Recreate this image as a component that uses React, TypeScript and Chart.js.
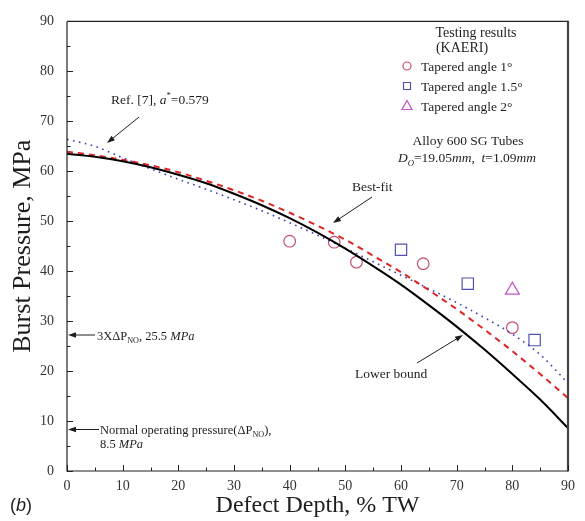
import React, { useEffect, useRef } from 'react';
import { Chart, registerables } from 'chart.js';

Chart.register(...registerables);

// ---- Data ----
const depth = [0, 5, 10, 15, 20, 25, 30, 35, 40, 45, 50, 55, 60, 65, 70, 75, 80, 85, 90];
const lowerBound = [63.5, 62.9, 62.0, 60.8, 59.3, 57.6, 55.5, 53.2, 50.6, 47.7, 44.5, 41.0, 37.3, 33.2, 28.9, 24.3, 19.4, 14.3, 8.6];
const bestFit = [63.9, 63.2, 62.3, 61.2, 59.8, 58.1, 56.2, 54.1, 51.7, 49.1, 46.3, 43.1, 39.8, 36.2, 32.4, 28.3, 24.0, 19.4, 14.6];
const ref7 = [66.4, 65.0, 62.7, 60.5, 58.4, 56.4, 54.3, 52.1, 49.7, 47.2, 44.6, 41.9, 39.2, 36.5, 33.7, 30.7, 27.4, 23.3, 17.6];

const angle1Depth = [40, 48, 52, 64, 80];
const angle1Burst = [46.0, 45.8, 41.8, 41.5, 28.7];
const angle15Depth = [60, 72, 84];
const angle15Burst = [44.3, 37.5, 26.2];
const angle2Depth = [80];
const angle2Burst = [36.2];

const axisMin = 0;
const axisMax = 90;
const majorStep = 10;
const minorStep = 5;

const legendLabels = ['Tapered angle 1\u00B0', 'Tapered angle 1.5\u00B0', 'Tapered angle 2\u00B0'];

// ---- Styles ----
const SERIF = '"Liberation Serif", "Times New Roman", Times, serif';
const SANS = '"Liberation Sans", Arial, sans-serif';
const C_CIRCLE = '#c4506c';
const C_SQUARE = '#5252ae';
const C_TRI = '#c452cc';
const C_RED = '#e02424';
const C_BLUE = '#3c3cb4';
const TEXT = '#1e1e1e';

const toXY = (xs: number[], ys: number[]) => xs.map((x, i) => ({ x, y: ys[i] }));

type Part = { t: string; it?: boolean; sub?: boolean; sup?: boolean };

function rich(ctx: CanvasRenderingContext2D, parts: Part[], x: number, y: number, size: number, align: 'left' | 'center' = 'left', family = SERIF) {
  const fontFor = (p: Part) => `${p.it ? 'italic ' : ''}${p.sub || p.sup ? size * 0.65 : size}px ${family}`;
  let w = 0;
  for (const p of parts) {
    ctx.font = fontFor(p);
    w += ctx.measureText(p.t).width;
  }
  let cx = align === 'center' ? x - w / 2 : x;
  ctx.textAlign = 'left';
  ctx.textBaseline = 'alphabetic';
  ctx.fillStyle = TEXT;
  for (const p of parts) {
    ctx.font = fontFor(p);
    const dy = p.sub ? size * 0.28 : p.sup ? -size * 0.42 : 0;
    ctx.fillText(p.t, cx, y + dy);
    cx += ctx.measureText(p.t).width;
  }
}

function arrow(ctx: CanvasRenderingContext2D, x1: number, y1: number, x2: number, y2: number) {
  const ang = Math.atan2(y2 - y1, x2 - x1);
  const hl = 8, hw = 2.8;
  ctx.strokeStyle = TEXT;
  ctx.fillStyle = TEXT;
  ctx.lineWidth = 1;
  ctx.beginPath();
  ctx.moveTo(x1, y1);
  ctx.lineTo(x2 - Math.cos(ang) * hl * 0.8, y2 - Math.sin(ang) * hl * 0.8);
  ctx.stroke();
  ctx.beginPath();
  ctx.moveTo(x2, y2);
  ctx.lineTo(x2 - Math.cos(ang) * hl + Math.sin(ang) * hw, y2 - Math.sin(ang) * hl - Math.cos(ang) * hw);
  ctx.lineTo(x2 - Math.cos(ang) * hl - Math.sin(ang) * hw, y2 - Math.sin(ang) * hl + Math.cos(ang) * hw);
  ctx.closePath();
  ctx.fill();
}

function marker(ctx: CanvasRenderingContext2D, kind: 'circle' | 'rect' | 'triangle', x: number, y: number, color: string) {
  ctx.strokeStyle = color;
  ctx.lineWidth = 1.2;
  ctx.beginPath();
  if (kind === 'circle') {
    ctx.arc(x, y, 4, 0, Math.PI * 2);
  } else if (kind === 'rect') {
    ctx.rect(x - 3.5, y - 3.5, 7, 7);
  } else {
    ctx.moveTo(x, y - 5);
    ctx.lineTo(x + 5, y + 4);
    ctx.lineTo(x - 5, y + 4);
    ctx.closePath();
  }
  ctx.stroke();
}

const overlay = {
  id: 'overlay',
  afterDraw(chart: any) {
    const ctx: CanvasRenderingContext2D = chart.ctx;
    const { left, right, top, bottom } = chart.chartArea;
    const xs = chart.scales.x;
    const ys = chart.scales.y;
    ctx.save();

    // frame
    ctx.strokeStyle = '#222';
    ctx.lineWidth = 1.2;
    ctx.beginPath();
    ctx.moveTo(left, top);
    ctx.lineTo(right, top);
    ctx.moveTo(left, top);
    ctx.lineTo(left, bottom);
    ctx.lineTo(right, bottom);
    ctx.stroke();
    ctx.strokeStyle = '#444';
    ctx.lineWidth = 2.2;
    ctx.beginPath();
    ctx.moveTo(right, top - 0.6);
    ctx.lineTo(right, bottom + 0.6);
    ctx.stroke();

    // inward ticks
    ctx.strokeStyle = '#222';
    ctx.lineWidth = 1;
    ctx.beginPath();
    for (let v = axisMin; v <= axisMax; v += minorStep) {
      const len = v % majorStep === 0 ? 6 : 3.5;
      const px = Math.round(xs.getPixelForValue(v)) + 0.5;
      ctx.moveTo(px, bottom);
      ctx.lineTo(px, bottom - len);
      const py = Math.round(ys.getPixelForValue(v)) + 0.5;
      ctx.moveTo(left, py);
      ctx.lineTo(left + len, py);
    }
    ctx.stroke();

    // legend block
    rich(ctx, [{ t: 'Testing results' }], 476, 37, 14, 'center');
    rich(ctx, [{ t: '(KAERI)' }], 462, 52, 14, 'center');
    const rows = [66, 86, 105.5];
    const kinds: ('circle' | 'rect' | 'triangle')[] = ['circle', 'rect', 'triangle'];
    const cols = [C_CIRCLE, C_SQUARE, C_TRI];
    rows.forEach((ry, i) => {
      marker(ctx, kinds[i], 407, ry, cols[i]);
      rich(ctx, [{ t: legendLabels[i] }], 421, ry + 5, 13.5);
    });

    rich(ctx, [{ t: 'Alloy 600 SG Tubes' }], 468, 145, 13.5, 'center');
    rich(ctx, [
      { t: 'D', it: true }, { t: 'O', it: true, sub: true }, { t: '=19.05' }, { t: 'mm', it: true },
      { t: ',  ' }, { t: 't', it: true }, { t: '=1.09' }, { t: 'mm', it: true },
    ], 467, 162, 13.5, 'center');

    // annotations
    rich(ctx, [{ t: 'Ref. [7], ' }, { t: 'a', it: true }, { t: '*', sup: true }, { t: '=0.579' }], 111, 104, 13.5);
    arrow(ctx, 139, 117, 107, 143);

    rich(ctx, [{ t: 'Best-fit' }], 352, 191, 13.5);
    arrow(ctx, 372, 197, 333, 223);

    rich(ctx, [{ t: 'Lower bound' }], 355, 378, 13.5);
    arrow(ctx, 417, 363, 463, 335);

    rich(ctx, [{ t: '3X\u0394P' }, { t: 'NO', sub: true }, { t: ', 25.5 ' }, { t: 'MPa', it: true }], 97, 339.5, 12.5);
    arrow(ctx, 95, 335, 68, 335);

    rich(ctx, [{ t: 'Normal operating pressure(\u0394P' }, { t: 'NO', sub: true }, { t: '),' }], 100, 433.5, 12.5);
    rich(ctx, [{ t: '8.5 ' }, { t: 'MPa', it: true }], 100, 447.5, 12.5);
    arrow(ctx, 99, 429.5, 68, 429.5);

    // panel label
    rich(ctx, [{ t: '(' }, { t: 'b', it: true }, { t: ')' }], 10, 511, 18, 'left', SANS);

    ctx.restore();
  },
};

export default function App() {
  const ref = useRef<HTMLCanvasElement | null>(null);

  useEffect(() => {
    if (!ref.current) return;
    const chart = new Chart(ref.current, {
      type: 'line',
      data: {
        datasets: [
          {
            label: 'Lower bound',
            data: toXY(depth, lowerBound),
            borderColor: '#000',
            borderWidth: 2,
            pointRadius: 0,
            cubicInterpolationMode: 'monotone',
          },
          {
            label: 'Best-fit',
            data: toXY(depth, bestFit),
            borderColor: C_RED,
            borderWidth: 2,
            borderDash: [6, 5],
            pointRadius: 0,
            cubicInterpolationMode: 'monotone',
          },
          {
            label: 'Ref. [7]',
            data: toXY(depth, ref7),
            borderColor: C_BLUE,
            borderWidth: 1.6,
            borderDash: [1.6, 4.5],
            pointRadius: 0,
            cubicInterpolationMode: 'monotone',
          },
          {
            label: legendLabels[0],
            data: toXY(angle1Depth, angle1Burst),
            showLine: false,
            pointStyle: 'circle',
            pointRadius: 5.8,
            pointBorderWidth: 1.2,
            pointBorderColor: C_CIRCLE,
            pointBackgroundColor: 'rgba(0,0,0,0)',
          },
          {
            label: legendLabels[1],
            data: toXY(angle15Depth, angle15Burst),
            showLine: false,
            pointStyle: 'rect',
            pointRadius: 8,
            pointBorderWidth: 1.2,
            pointBorderColor: C_SQUARE,
            pointBackgroundColor: 'rgba(0,0,0,0)',
          },
          {
            label: legendLabels[2],
            data: toXY(angle2Depth, angle2Burst),
            showLine: false,
            pointStyle: 'triangle',
            pointRadius: 8,
            pointBorderWidth: 1.2,
            pointBorderColor: C_TRI,
            pointBackgroundColor: 'rgba(0,0,0,0)',
          },
        ],
      },
      options: {
        responsive: false,
        animation: false,
        layout: { padding: { left: 0, right: 17, top: 15, bottom: 0 } },
        plugins: {
          legend: { display: false },
          tooltip: { enabled: false },
        },
        scales: {
          x: {
            type: 'linear',
            min: axisMin,
            max: axisMax,
            afterFit: (s: any) => { s.height = 50; },
            grid: { display: false, drawTicks: false },
            border: { display: false },
            ticks: {
              stepSize: majorStep,
              padding: 7,
              color: '#333',
              font: { family: SERIF, size: 14 },
              maxRotation: 0,
            },
            title: {
              display: true,
              text: 'Defect Depth, % TW',
              color: TEXT,
              font: { family: SERIF, size: 24 },
              padding: { top: 0, bottom: 1 },
            },
          },
          y: {
            type: 'linear',
            min: axisMin,
            max: axisMax,
            afterFit: (s: any) => { s.width = 67; },
            grid: { display: false, drawTicks: false },
            border: { display: false },
            ticks: {
              stepSize: majorStep,
              padding: 13,
              color: '#333',
              font: { family: SERIF, size: 14 },
            },
            title: {
              display: true,
              text: 'Burst Pressure, MPa',
              color: TEXT,
              font: { family: SERIF, size: 26 },
              padding: { top: 8, bottom: 0 },
            },
          },
        },
      },
      plugins: [overlay],
    } as any);
    return () => chart.destroy();
  }, []);

  return (
    <div style={{ position: 'fixed', left: 0, top: 0, width: 585, height: 521, background: '#fff' }}>
      <canvas ref={ref} width={585} height={521} style={{ display: 'block', width: 585, height: 521 }} />
    </div>
  );
}
